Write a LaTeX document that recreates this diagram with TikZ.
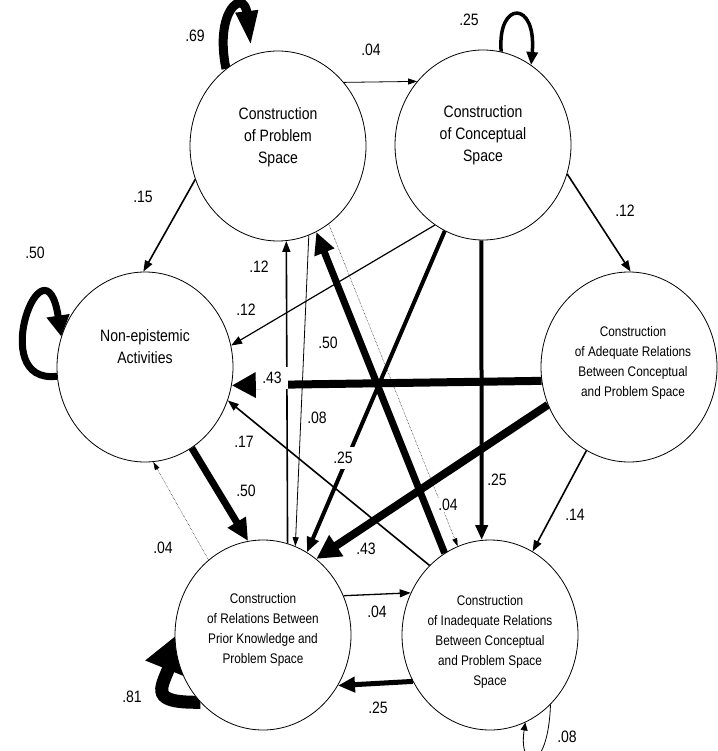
\documentclass[tikz,border=0pt]{standalone}
\usepackage{fontspec}
\usetikzlibrary{arrows.meta,shapes.geometric}
\newfontfamily\labfont[FakeStretch=0.85]{Liberation Sans}
\pgfdeclarelayer{bg}
\pgfsetlayers{bg,main}
\begin{document}
\begin{tikzpicture}[x=1pt,y=-1pt,
  st/.style={ellipse, draw, fill=white, line width=0.8pt, minimum width=176pt, minimum height=190pt, inner sep=0pt},
  big/.style={font=\labfont\fontsize{16.5}{22}\selectfont, align=center},
  small/.style={font=\labfont\fontsize{13.9}{20}\selectfont, align=center},
  num/.style={font=\labfont\fontsize{16.5}{20}\selectfont, inner sep=1pt},
  numw/.style={num, fill=white, inner xsep=6pt, inner ysep=5pt},
  numf/.style={num, fill=white},
  e1/.style={line width=0.8pt, -{Triangle[length=9pt,width=6pt]}},
  e2/.style={line width=1.6pt, -{Triangle[length=11pt,width=8pt]}},
  e4/.style={line width=4pt, -{Triangle[length=15pt,width=12pt]}},
  e5/.style={line width=5pt, -{Triangle[length=17pt,width=15pt]}},
  e7/.style={line width=7pt, -{Triangle[length=22pt,width=20pt]}},
  e8/.style={line width=8pt, -{Triangle[length=24pt,width=24pt]}},
  ed/.style={line width=0.5pt, densely dotted, -{Triangle[length=8pt,width=5pt]}},
]
\useasboundingbox (0,0) rectangle (717,751);

% states
\node[st, label={[big,yshift=9pt]center:Construction\\of Problem\\Space}] (PS) at (278,146) {};
\node[st, label={[big,yshift=10pt]center:Construction\\of Conceptual\\Space}] (CS) at (483,145) {};
\node[st, label={[big,yshift=20pt]center:Non-epistemic\\Activities}] (NE) at (145,367) {};
\node[st, label={[small,yshift=4pt,xshift=4pt]center:Construction\\of Adequate Relations\\Between Conceptual\\and Problem Space}] (AR) at (629,367) {};
\node[st, label={[small,yshift=5pt]center:Construction\\of Relations Between\\Prior Knowledge and\\Problem Space}] (RP) at (263,635) {};
\node[st, label={[small,yshift=-7pt]center:Construction\\of Inadequate Relations\\Between Conceptual\\and Problem Space\\Space}] (IR) at (490,635) {};

% self loops (behind the states)
\coordinate (t69) at (251,47);
\coordinate (t81) at (185,628);
\begin{pgfonlayer}{bg}
  \clip (0,0) rectangle (717,751);
  \draw[line width=9pt, -{Triangle[length=36pt,width=20pt]}] (PS.124.6) .. controls (214,10) and (244,-12) .. (t69);
  \draw[line width=3.5pt, -{Triangle[length=13pt,width=11pt]}] (CS.79) .. controls (497,0) and (537,0) .. (CS.59.4);
  \draw[line width=7pt, -{Triangle[length=21pt,width=22pt]}] (NE.186) .. controls (-15,385) and (45,230) .. (NE.160);
  \draw[line width=13pt, -{Triangle[length=45pt,width=46pt]}] (RP.227) .. controls (150,703) and (160,690) .. (t81);
  \draw[line width=0.8pt, -{Triangle[length=8pt,width=7pt]}] (IR.311) .. controls (548,775) and (518,770) .. (IR.292);
\end{pgfonlayer}

% transitions
\draw[e1] (PS.44.6) -- (CS.136.3);
\draw[e2] (CS.341.4) -- (AR.89.4);
\draw[e2] (PS.202.7) -- (NE.91.8);
\draw[e2, line width=1.2pt] (CS.239.6) -- (NE.14.2);
\draw[e2] (RP.75.8) -- (PS.275.5);
\draw[e1] (PS.289.2) -- (RP.70.3);
\draw[e7] (IR.119.5) -- (PS.294);
\draw[ed] (PS.303.4) -- (IR.110.1);
\draw[e8] (AR.189.6) -- (NE.348.4);
\draw[e8] (AR.205.5) -- (RP.55.2);
\draw[e4] (CS.246) -- (RP.62.1);
\draw[e4] (CS.269) -- (IR.95.5);
\draw[e2] (AR.243.7) -- (IR.63.7);
\draw[e2] (IR.131.5) -- (NE.338.1);
\draw[e7] (NE.300.6) -- (RP.99.6);
\draw[ed] (RP.126) -- (NE.275.4);
\draw[e2, line width=1.3pt] (RP.26.3) -- (IR.152.6);
\draw[e5] (IR.211) -- (RP.326.6);

% probabilities
\node[num] (l69) at (195,36) {.69};
\node[num] (l04a) at (371,50) {.04};
\node[num] (l25a) at (469,20) {.25};
\node[num] (l15) at (143,197) {.15};
\node[num] (l12c) at (625,211) {.12};
\node[num] (l50a) at (35,253) {.50};
\node[num] (l12a) at (259,267) {.12};
\node[num] (l12b) at (246,310) {.12};
\node[num] (l50b) at (328,343) {.50};
\node[numw] (l43a) at (272,378) {.43};
\node[num] (l08a) at (317,418) {.08};
\node[num] (l17) at (244,442) {.17};
\node[numw] (l25b) at (343,458) {.25};
\node[num] (l50c) at (246,491) {.50};
\node[num] (l04b) at (163,548) {.04};
\node[num] (l81) at (132,697) {.81};
\node[num] (l25c) at (497,480) {.25};
\node[numf] (l04c) at (448,505) {.04};
\node[num] (l14) at (575,515) {.14};
\node[num] (l43b) at (366,549) {.43};
\node[num] (l04d) at (377,612) {.04};
\node[num] (l25d) at (378,708) {.25};
\node[num] (l08b) at (567,737) {.08};
\end{tikzpicture}
\end{document}
